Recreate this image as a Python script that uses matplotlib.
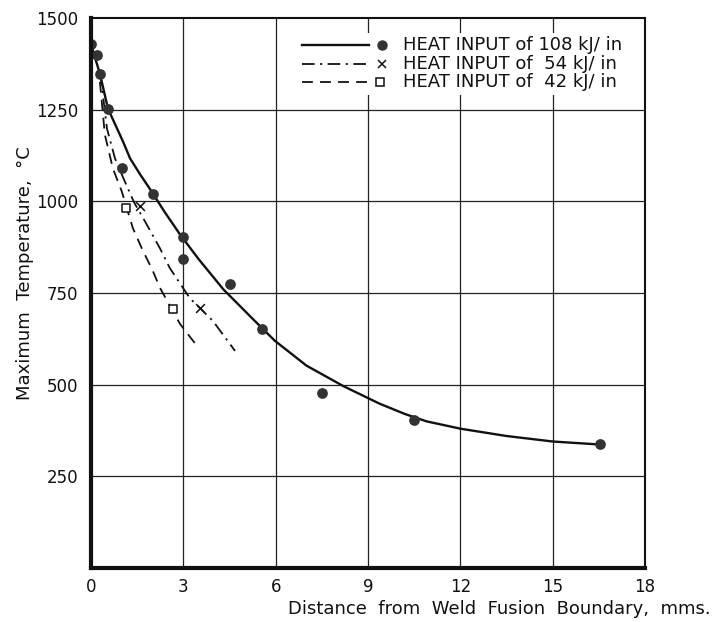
import matplotlib
matplotlib.use("Agg")
import matplotlib.pyplot as plt
from matplotlib.patches import Rectangle

plt.rcParams['font.family'] = ['DejaVu Sans']

# Measured points
hi_x = [0.0, 0.2, 0.3, 0.55, 1.0, 2.0, 3.0, 3.0, 4.5, 5.55, 7.5, 10.5, 16.55]
hi_y = [1430, 1400, 1348, 1253, 1090, 1019, 902, 842, 774, 652, 478, 405, 337]
mid_x = [1.6, 3.55]
mid_y = [986, 709]
lo_x = [1.14, 2.66]
lo_y = [981, 707]

# Fitted curves
hi_cx = [0.0, 0.1, 0.29, 0.55, 1.04, 1.27, 1.6, 1.92, 2.4, 2.89, 3.5, 4.3, 5.26, 5.97, 7.0, 8.2, 9.38, 10.2, 10.9, 12.0, 13.5, 15.0, 16.3, 16.55]
hi_cy = [1430, 1400, 1348, 1253, 1163, 1117, 1073, 1033, 970, 910, 842, 760, 679, 620, 552, 496, 448, 420, 400, 380, 360, 345, 338, 337]
mid_cx = [0.3, 0.52, 0.78, 1.1, 1.4, 1.75, 2.0, 2.24, 2.56, 3.21, 3.96, 4.68]
mid_cy = [1350, 1198, 1117, 1054, 997, 946, 908, 872, 818, 736, 674, 592]
lo_cx = [0.29, 0.45, 0.71, 1.0, 1.36, 1.66, 2.0, 2.24, 2.89, 3.44]
lo_cy = [1326, 1182, 1090, 1027, 927, 870, 812, 764, 666, 606]

x_ticks = [0, 3, 6, 9, 12, 15, 18]
y_ticks = [250, 500, 750, 1000, 1250, 1500]
legend_labels = ["HEAT INPUT of 108 kJ/ in", "HEAT INPUT of  54 kJ/ in", "HEAT INPUT of  42 kJ/ in"]

W, H = 718, 622
INK = '#111111'
DASHDOT = (0, (7, 3, 1.2, 3))
DASHED = (0, (6, 4))

fig = plt.figure(figsize=(W / 100, H / 100), dpi=100)
ax = fig.add_axes([91 / W, 1 - 568 / H, (645 - 91) / W, (568 - 18) / H])
ax.set_xlim(0, 18)
ax.set_ylim(0, 1500)

for v in x_ticks[1:-1]:
    ax.axvline(v, color='#222222', lw=0.9, zorder=1)
for v in y_ticks[:-1]:
    ax.axhline(v, color='#222222', lw=0.9, zorder=1)

ax.plot(hi_cx, hi_cy, color=INK, lw=1.7, ls='-', zorder=3)
ax.plot(mid_cx, mid_cy, color=INK, lw=1.3, ls=DASHDOT, zorder=3)
ax.plot(lo_cx, lo_cy, color=INK, lw=1.3, ls=DASHED, zorder=3)

ax.scatter(hi_x, hi_y, s=45, color='#333333', zorder=4)
ax.scatter(mid_x, mid_y, s=40, marker='x', color=INK, linewidths=1.1, zorder=4)
ax.scatter(lo_x, lo_y, s=40, marker='s', facecolor='white', edgecolor=INK, linewidths=1.1, zorder=4)

for s in ['left', 'bottom']:
    ax.spines[s].set_linewidth(3)
for s in ['top', 'right']:
    ax.spines[s].set_linewidth(1.5)
for s in ax.spines.values():
    s.set_color(INK)
    s.set_zorder(6)

ax.set_xticks(x_ticks)
ax.set_xticklabels([str(v) for v in x_ticks])
ax.set_yticks(y_ticks)
ax.set_yticklabels([str(v) for v in y_ticks])
ax.tick_params(axis='both', direction='in', length=0, labelsize=12, colors=INK)
ax.tick_params(axis='x', pad=7)
ax.tick_params(axis='y', pad=9)

fig.text(25 / W, 1 - 273 / H, "Maximum  Temperature,  °C", rotation=90, ha='center', va='center',
         fontsize=13, color=INK)
fig.text(711 / W, 1 - 609 / H, "Distance  from  Weld  Fusion  Boundary,  mms.", ha='right', va='center',
         fontsize=13, color=INK)

# Manual legend (figure pixel coordinates)
def fx(px):
    return px / W

def fy(py):
    return 1 - py / H

fig.patches.append(Rectangle((fx(296), fy(95)), fx(643) - fx(296), fy(33) - fy(95),
                             transform=fig.transFigure, facecolor='white', edgecolor='none', zorder=5))
rows = [45, 64, 82]
styles = ['-', DASHDOT, DASHED]
widths = [1.7, 1.3, 1.3]
for i, (lab, ls, lw) in enumerate(zip(legend_labels, styles, widths)):
    y = fy(rows[i])
    fig.add_artist(plt.Line2D([fx(302), fx(369)], [y, y], color=INK, lw=lw, ls=ls,
                              transform=fig.transFigure, zorder=6))
    if i == 0:
        fig.add_artist(plt.Line2D([fx(382)], [y], marker='o', markersize=6.5, color='#333333',
                                  ls='none', transform=fig.transFigure, zorder=6))
    elif i == 1:
        fig.add_artist(plt.Line2D([fx(382)], [y], marker='x', markersize=6, color=INK, mew=1.1,
                                  ls='none', transform=fig.transFigure, zorder=6))
    else:
        fig.add_artist(plt.Line2D([fx(380)], [y], marker='s', markersize=6, markerfacecolor='white',
                                  markeredgecolor=INK, mew=1.1, ls='none', transform=fig.transFigure, zorder=6))
    fig.text(fx(403), y, lab, ha='left', va='center', fontsize=13, color=INK, zorder=7)

fig.savefig("out.png", dpi=100, facecolor='white')
